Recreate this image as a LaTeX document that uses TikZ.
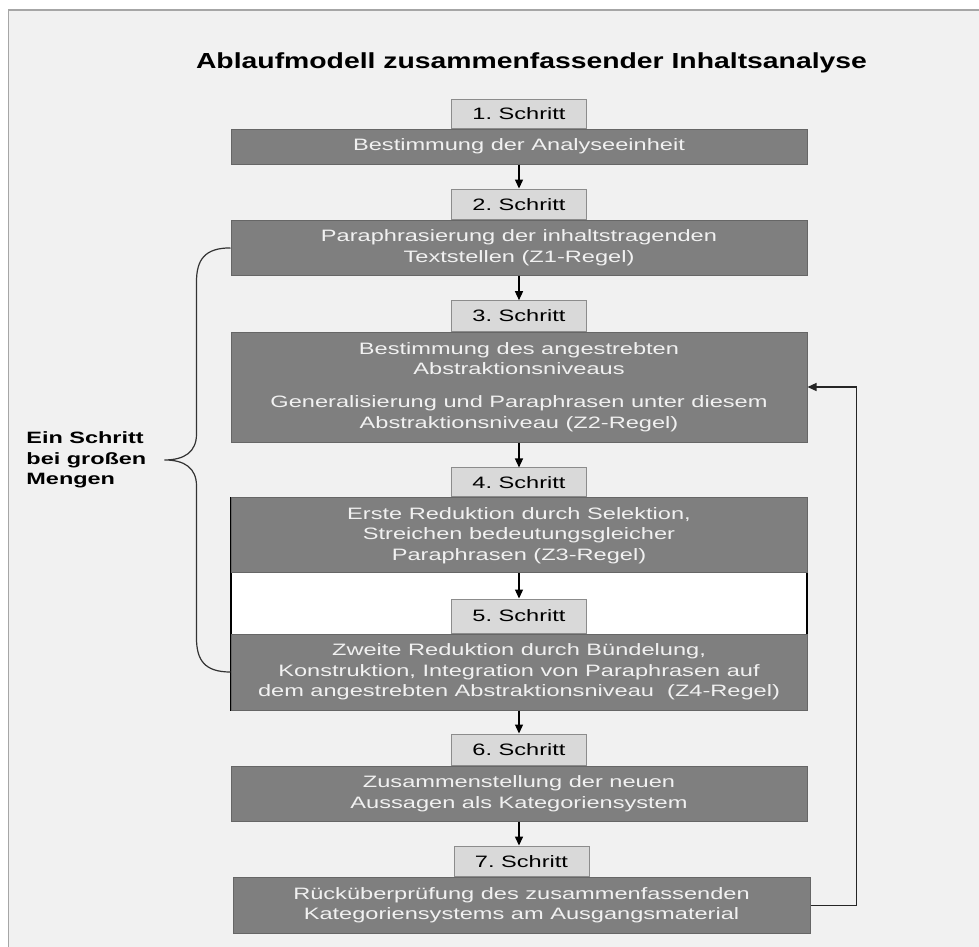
\documentclass[tikz,border=0pt]{standalone}
\usepackage{fontspec}
\setmainfont{Liberation Sans}[FakeStretch=1.43]
\newfontfamily\titelfont{Liberation Sans}[FakeStretch=1.3]
\usetikzlibrary{positioning,arrows.meta,calc}

\definecolor{hintergrund}{HTML}{F1F1F1}
\definecolor{rahmen}{HTML}{A6A6A6}
\definecolor{kasten}{HTML}{7F7F7F}
\definecolor{kastenrand}{HTML}{666666}
\definecolor{reiterfarbe}{HTML}{D9D9D9}
\definecolor{reiterrand}{HTML}{8C8C8C}

\tikzset{
  stufe/.style={draw=kastenrand, fill=kasten, text=hintergrund, line width=1pt,
    minimum width=576pt, align=center, inner sep=0pt,
    font=\fontsize{16.5}{20.5}\selectfont},
  reiter/.style={draw=reiterrand, fill=reiterfarbe, line width=1pt,
    minimum width=135pt, inner sep=0pt, font=\fontsize{16.5}{20.5}\selectfont},
  pfeil/.style={-{Triangle[length=9pt,width=8pt]}, line width=1.3pt},
}

\begin{document}
\begin{tikzpicture}[x=1pt, y=-1pt]
  \useasboundingbox (0,0) rectangle (979,946);
  \draw[fill=hintergrund, draw=rahmen, line width=1.5pt] (8.5,10) rectangle (990,960);

  \node[font=\titelfont\bfseries\fontsize{21.8}{26}\selectfont, anchor=base] (titel) at (531.5,68)
    {Ablaufmodell zusammenfassender Inhaltsanalyse};

  % weisser Rahmen um Schritt 4 und 5
  \draw[fill=white, line width=1.2pt] (231,497.7) rectangle (807,710);

  % die Schritte
  \node[stufe, minimum height=35pt] (b1) at (519,146.5) {Bestimmung der Analyseeinheit};
  \node[stufe, minimum height=54.3pt] (b2) at (519,247.9)
    {Paraphrasierung der inhaltstragenden\\Textstellen (Z1-Regel)};
  \node[stufe, minimum height=110pt] (b3) at (519,387)
    {Bestimmung des angestrebten\\Abstraktionsniveaus\\[12.5pt]Generalisierung und Paraphrasen unter diesem\\Abstraktionsniveau (Z2-Regel)};
  \node[stufe, minimum height=75.3pt] (b4) at (519,535.3)
    {Erste Reduktion durch Selektion,\\Streichen bedeutungsgleicher\\Paraphrasen (Z3-Regel)};
  \node[stufe, minimum height=76pt] (b5) at (519,672)
    {Zweite Reduktion durch Bündelung,\\Konstruktion, Integration von Paraphrasen auf\\dem angestrebten Abstraktionsniveau\ \ (Z4-Regel)};
  \node[stufe, minimum height=55pt] (b6) at (519,793.5)
    {Zusammenstellung der neuen\\Aussagen als Kategoriensystem};
  \node[stufe, minimum height=55.3pt, minimum width=577pt] (b7) at (521.5,905.4)
    {Rücküberprüfung des zusammenfassenden\\Kategoriensystems am Ausgangsmaterial};

  \foreach \i/\h in {1/29,2/30.7,3/30.3,4/28.7,5/34,6/31,7/30.7}
    \node[reiter, minimum height=\h pt, above=0pt of b\i] (t\i) {\i.\ Schritt};

  \foreach \a/\b in {1/2,2/3,3/4,4/5,5/6,6/7}
    \draw[pfeil] (b\a.south) -- (b\a.south |- t\b.north);

  % Rueckkopplung
  \draw[pfeil, black!85] (b7.east) -- ++(46,0) |- (b3.east);

  % Klammer links
  \coordinate (spitze) at ($(b2.west)!0.5!(b5.west)+(-66,0)$);
  \draw[line width=1.2pt, black!80] (b2.west) .. controls +(-26,0) and +(0,-22) .. ++(-34,34)
    -- ($(spitze)+(32,-26)$) .. controls +(0,18) and +(20,0) .. (spitze)
    .. controls +(20,0) and +(0,-18) .. ($(spitze)+(32,26)$)
    -- ($(b5.west)+(-34,-34)$) .. controls +(0,22) and +(-26,0) .. (b5.west);
  \node[font=\bfseries\fontsize{16.4}{20.5}\selectfont, align=left, anchor=east, inner sep=0pt]
    (hinweis) at ($(spitze)+(-18,0)$) {Ein Schritt\\bei großen\\Mengen};
\end{tikzpicture}
\end{document}
